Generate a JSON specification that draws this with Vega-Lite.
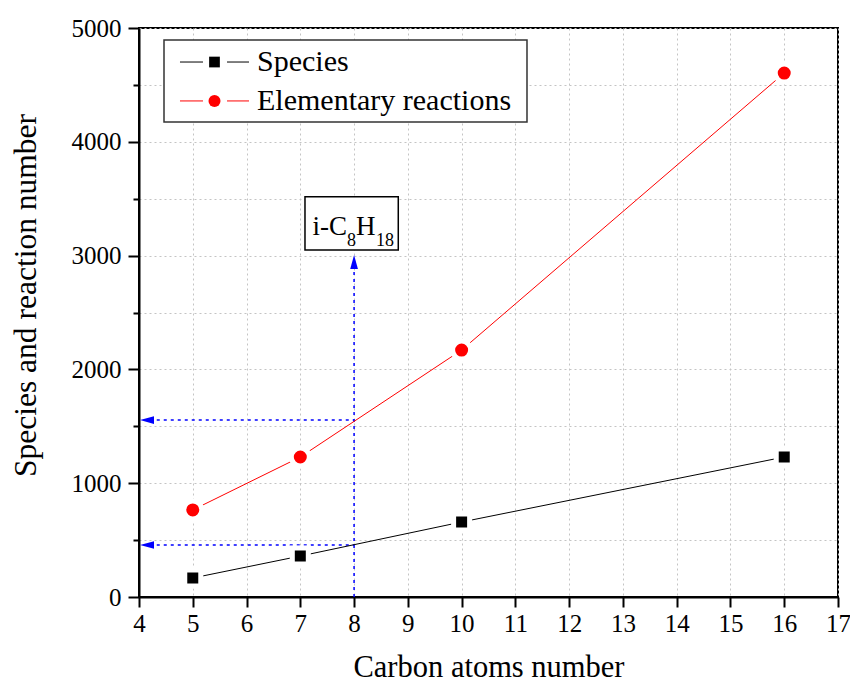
{
  "$schema": "https://vega.github.io/schema/vega-lite/v6.json",
  "width": 699,
  "height": 569,
  "autosize": "none",
  "padding": {"left": 139, "top": 28, "right": 12, "bottom": 85},
  "background": "white",
  "config": {
    "font": "Liberation Serif",
    "view": {"stroke": "black", "strokeWidth": 2},
    "axis": {
      "labelFont": "Liberation Serif",
      "titleFont": "Liberation Serif",
      "labelColor": "black",
      "titleColor": "black",
      "titleFontWeight": "normal",
      "domainColor": "black",
      "domainWidth": 2,
      "tickColor": "black",
      "tickWidth": 2,
      "gridColor": "#c4c4c4",
      "gridDash": [2, 3],
      "gridWidth": 1
    }
  },
  "data": {
    "values": [
      {"carbon": 5, "value": 167, "series": "Species"},
      {"carbon": 7, "value": 360, "series": "Species"},
      {"carbon": 10, "value": 659, "series": "Species"},
      {"carbon": 16, "value": 1230, "series": "Species"},
      {"carbon": 5, "value": 765, "series": "Elementary reactions"},
      {"carbon": 7, "value": 1230, "series": "Elementary reactions"},
      {"carbon": 10, "value": 2170, "series": "Elementary reactions"},
      {"carbon": 16, "value": 4604, "series": "Elementary reactions"}
    ]
  },
  "encoding": {
    "x": {
      "field": "carbon",
      "type": "quantitative",
      "scale": {"domain": [4, 17], "nice": false, "zero": false},
      "axis": {
        "title": "Carbon atoms number",
        "values": [4, 5, 6, 7, 8, 9, 10, 11, 12, 13, 14, 15, 16, 17],
        "grid": true,
        "labelFontSize": 25,
        "titleFontSize": 30.5,
        "tickSize": 10,
        "labelPadding": 4,
        "titlePadding": 16,
        "labelFlush": false
      }
    },
    "y": {
      "field": "value",
      "type": "quantitative",
      "scale": {"domain": [0, 5000], "nice": false},
      "axis": {
        "title": "Species and reaction number",
        "values": [0, 500, 1000, 1500, 2000, 2500, 3000, 3500, 4000, 4500, 5000],
        "labelExpr": "datum.value % 1000 === 0 ? datum.label : ''",
        "format": "d",
        "grid": true,
        "labelFontSize": 25,
        "titleFontSize": 31.5,
        "titleY": 267,
        "tickSize": {"condition": {"test": "datum.value % 1000 === 0", "value": 11}, "value": 6},
        "labelPadding": 7,
        "titlePadding": 29,
        "labelFlush": false
      }
    }
  },
  "layer": [
    {
      "transform": [{"filter": "datum.carbon === 5 && datum.series === 'Species'"}],
      "mark": {"type": "rule", "color": "blue", "strokeWidth": 1.5, "strokeDash": [3, 4]},
      "encoding": {"x": {"datum": 4.2}, "x2": {"datum": 8}, "y": {"datum": 1555}}
    },
    {
      "transform": [{"filter": "datum.carbon === 5 && datum.series === 'Species'"}],
      "mark": {"type": "rule", "color": "blue", "strokeWidth": 1.5, "strokeDash": [3, 4]},
      "encoding": {"x": {"datum": 4.2}, "x2": {"datum": 8}, "y": {"datum": 457}}
    },
    {
      "transform": [{"filter": "datum.carbon === 5 && datum.series === 'Species'"}],
      "mark": {"type": "rule", "color": "blue", "strokeWidth": 1.5, "strokeDash": [3, 4]},
      "encoding": {"x": {"datum": 8}, "y": {"datum": 0}, "y2": {"datum": 2944}}
    },
    {
      "transform": [{"filter": "datum.carbon === 5 && datum.series === 'Species'"}],
      "mark": {"type": "point", "filled": true, "color": "blue", "opacity": 1, "size": 196, "strokeWidth": 0, "shape": "M-1,0L1,-0.55L1,0.55Z"},
      "encoding": {"x": {"datum": 4.149}, "y": {"datum": 1555}}
    },
    {
      "transform": [{"filter": "datum.carbon === 5 && datum.series === 'Species'"}],
      "mark": {"type": "point", "filled": true, "color": "blue", "opacity": 1, "size": 196, "strokeWidth": 0, "shape": "M-1,0L1,-0.55L1,0.55Z"},
      "encoding": {"x": {"datum": 4.149}, "y": {"datum": 457}}
    },
    {
      "transform": [{"filter": "datum.carbon === 5 && datum.series === 'Species'"}],
      "mark": {"type": "point", "filled": true, "color": "blue", "opacity": 1, "size": 196, "strokeWidth": 0, "shape": "M0,-1L0.55,1L-0.55,1Z"},
      "encoding": {"x": {"datum": 8}, "y": {"datum": 2944}}
    },
    {
      "transform": [{"filter": "datum.carbon === 5 && datum.series === 'Species'"}],
      "mark": {"type": "rect", "fill": "white", "stroke": "black", "strokeWidth": 1.5},
      "encoding": {"x": {"datum": 7.087}, "x2": {"datum": 8.822}, "y": {"datum": 3518}, "y2": {"datum": 3049}}
    },
    {
      "transform": [{"filter": "datum.carbon === 5 && datum.series === 'Species'"}],
      "mark": {"type": "text", "text": "i-C", "font": "Liberation Serif", "fontSize": 27, "align": "right", "baseline": "alphabetic", "dx": -7, "fill": "black"},
      "encoding": {"x": {"datum": 8}, "y": {"datum": 3181}}
    },
    {
      "transform": [{"filter": "datum.carbon === 5 && datum.series === 'Species'"}],
      "mark": {"type": "text", "text": "8", "font": "Liberation Serif", "fontSize": 18, "align": "left", "baseline": "alphabetic", "dx": -7, "dy": 11, "fill": "black"},
      "encoding": {"x": {"datum": 8}, "y": {"datum": 3181}}
    },
    {
      "transform": [{"filter": "datum.carbon === 5 && datum.series === 'Species'"}],
      "mark": {"type": "text", "text": "H", "font": "Liberation Serif", "fontSize": 27, "align": "left", "baseline": "alphabetic", "dx": 2, "fill": "black"},
      "encoding": {"x": {"datum": 8}, "y": {"datum": 3181}}
    },
    {
      "transform": [{"filter": "datum.carbon === 5 && datum.series === 'Species'"}],
      "mark": {"type": "text", "text": "18", "font": "Liberation Serif", "fontSize": 18, "align": "left", "baseline": "alphabetic", "dx": 22, "dy": 11, "fill": "black"},
      "encoding": {"x": {"datum": 8}, "y": {"datum": 3181}}
    },
    {
      "mark": {"type": "line", "strokeWidth": 1},
      "encoding": {
        "stroke": {
          "field": "series",
          "type": "nominal",
          "scale": {"domain": ["Species", "Elementary reactions"], "range": ["black", "red"]},
          "legend": null
        }
      }
    },
    {
      "transform": [{"filter": "datum.series === 'Species'"}],
      "mark": {"type": "point", "filled": true, "shape": "square", "fill": "black", "stroke": "white", "strokeWidth": 5, "size": 256, "opacity": 1}
    },
    {
      "transform": [{"filter": "datum.series === 'Elementary reactions'"}],
      "mark": {"type": "point", "filled": true, "shape": "circle", "fill": "red", "stroke": "white", "strokeWidth": 5, "size": 324, "opacity": 1}
    },
    {
      "transform": [{"filter": "datum.carbon === 5 && datum.series === 'Species'"}],
      "mark": {"type": "rect", "fill": "white", "stroke": "#333333", "strokeWidth": 1.5},
      "encoding": {"x": {"datum": 4.465}, "x2": {"datum": 11.216}, "y": {"datum": 4895}, "y2": {"datum": 4174}}
    },
    {
      "transform": [{"filter": "datum.carbon === 5 && datum.series === 'Species'"}],
      "mark": {"type": "rule", "color": "black", "strokeWidth": 1},
      "encoding": {"x": {"datum": 4.7625}, "x2": {"datum": 5.19}, "y": {"datum": 4701}}
    },
    {
      "transform": [{"filter": "datum.carbon === 5 && datum.series === 'Species'"}],
      "mark": {"type": "rule", "color": "black", "strokeWidth": 1},
      "encoding": {"x": {"datum": 5.637}, "x2": {"datum": 6.046}, "y": {"datum": 4701}}
    },
    {
      "transform": [{"filter": "datum.carbon === 5 && datum.series === 'Species'"}],
      "mark": {"type": "point", "filled": true, "shape": "square", "fill": "black", "strokeWidth": 0, "size": 115, "opacity": 1},
      "encoding": {"x": {"datum": 5.404}, "y": {"datum": 4701}}
    },
    {
      "transform": [{"filter": "datum.carbon === 5 && datum.series === 'Species'"}],
      "mark": {"type": "text", "text": "Species", "font": "Liberation Serif", "fontSize": 30, "align": "left", "baseline": "middle", "fill": "black"},
      "encoding": {"x": {"datum": 6.195}, "y": {"datum": 4701}}
    },
    {
      "transform": [{"filter": "datum.carbon === 5 && datum.series === 'Species'"}],
      "mark": {"type": "rule", "color": "red", "strokeWidth": 1},
      "encoding": {"x": {"datum": 4.7625}, "x2": {"datum": 5.19}, "y": {"datum": 4359}}
    },
    {
      "transform": [{"filter": "datum.carbon === 5 && datum.series === 'Species'"}],
      "mark": {"type": "rule", "color": "red", "strokeWidth": 1},
      "encoding": {"x": {"datum": 5.637}, "x2": {"datum": 6.046}, "y": {"datum": 4359}}
    },
    {
      "transform": [{"filter": "datum.carbon === 5 && datum.series === 'Species'"}],
      "mark": {"type": "point", "filled": true, "shape": "circle", "fill": "red", "strokeWidth": 0, "size": 144, "opacity": 1},
      "encoding": {"x": {"datum": 5.404}, "y": {"datum": 4359}}
    },
    {
      "transform": [{"filter": "datum.carbon === 5 && datum.series === 'Species'"}],
      "mark": {"type": "text", "text": "Elementary reactions", "font": "Liberation Serif", "fontSize": 30, "align": "left", "baseline": "middle", "fill": "black"},
      "encoding": {"x": {"datum": 6.195}, "y": {"datum": 4359}}
    }
  ]
}
